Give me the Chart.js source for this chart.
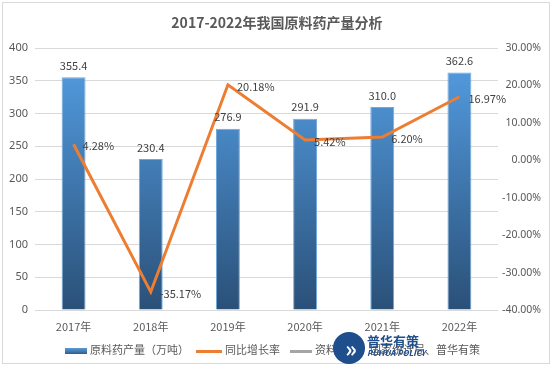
<!DOCTYPE html>
<html><head><meta charset="utf-8">
<script src="https://cdn.jsdelivr.net/npm/chart.js@4/dist/chart.umd.min.js"></script>
<style>
html,body{margin:0;padding:0;background:#fff;}
#wrap{position:relative;width:554px;height:369px;overflow:hidden;font-family:"Noto Sans CJK SC","Noto Sans",sans-serif;}
#frame{position:absolute;left:2px;top:2px;width:548px;height:362px;border:1px solid #d9d9d9;box-sizing:border-box;}
#title{position:absolute;left:0;top:12px;width:554px;text-align:center;font-size:14px;font-weight:bold;color:#595959;}
canvas{position:absolute;left:0;top:0;}
.lg{position:absolute;top:341px;font-size:11px;color:#595959;white-space:nowrap;}
.sw{display:inline-block;vertical-align:middle;margin-right:3px;}
#logo{position:absolute;left:333px;top:332px;width:32px;height:32px;border-radius:50%;background:#1f4e8c;color:#fff;font-size:22px;font-weight:bold;line-height:30px;text-align:center;letter-spacing:-4px;}
#logot{position:absolute;left:367px;top:334px;color:#1f4e8c;font-size:13px;font-weight:bold;line-height:14px;}
#logot span{display:block;font-size:8px;font-style:italic;line-height:9px;}
</style></head>
<body><div id="wrap">
<div id="frame"></div>
<canvas id="c" width="554" height="369"></canvas>
<div id="title">2017-2022年我国原料药产量分析</div>
<div class="lg" style="left:65px"><span class="sw" style="width:22px;height:6px;background:linear-gradient(#5b9bd5,#2e5e8f)"></span>原料药产量（万吨）</div>
<div class="lg" style="left:196px"><span class="sw" style="width:26px;height:3px;background:#ed7d31"></span>同比增长率</div>
<div class="lg" style="left:290px"><span class="sw" style="width:22px;height:3px;background:#a5a5a5"></span>资料来源：国家统计局、普华有策</div>
<div id="logo">»</div>
<div id="logot">普华有策<span>PUHUA POLICY</span></div>
</div>
<script>
const categories = ["2017年","2018年","2019年","2020年","2021年","2022年"];
const production = [355.4, 230.4, 276.9, 291.9, 310.0, 362.6];
const growth = [4.28, -35.17, 20.18, 5.42, 6.20, 16.97];
const leftTicks = [0,50,100,150,200,250,300,350,400];
const rightTicks = [-40,-30,-20,-10,0,10,20,30];

const labelPlugin = {
  id:'vals',
  afterDatasetsDraw(chart){
    const ctx = chart.ctx;
    ctx.save();
    ctx.font = '11px "Noto Sans CJK SC","Noto Sans",sans-serif';
    ctx.fillStyle = '#404040';
    chart.getDatasetMeta(0).data.forEach((el,i)=>{
      ctx.textAlign='center';ctx.textBaseline='bottom';
      ctx.fillText(production[i].toFixed(1), el.x, el.y-6);
    });
    chart.getDatasetMeta(1).data.forEach((el,i)=>{
      ctx.textAlign='left';ctx.textBaseline='middle';
      ctx.fillText(growth[i].toFixed(2)+'%', el.x+9, el.y+2);
    });
    ctx.restore();
  }
};

const ctx = document.getElementById('c').getContext('2d');
new Chart(ctx,{
  data:{
    labels:categories,
    datasets:[
      {type:'bar',data:production,yAxisID:'y',order:2,
       barPercentage:0.31,categoryPercentage:1,
       borderColor:'#6fa8dc',borderWidth:{top:1,left:1,right:1,bottom:0},
       backgroundColor:(c)=>{
         const a=c.chart.chartArea; if(!a) return '#4a86c5';
         const g=c.chart.ctx.createLinearGradient(0,a.top,0,a.bottom);
         g.addColorStop(0,'#55a0e6');g.addColorStop(1,'#2a5078');return g;}
      },
      {type:'line',data:growth,yAxisID:'y1',order:1,borderColor:'#ed7d31',borderWidth:3,
       pointRadius:0,tension:0,fill:false}
    ]
  },
  options:{
    responsive:false,animation:false,
    layout:{padding:{top:48,bottom:35,left:0,right:13}},
    plugins:{legend:{display:false},title:{display:false},tooltip:{enabled:false}},
    scales:{
      x:{grid:{display:false},border:{display:false},
         ticks:{color:'#595959',font:{size:11,family:'"Noto Sans CJK SC","Noto Sans",sans-serif'},padding:2,maxRotation:0},
         afterFit(s){s.height=24;}},
      y:{position:'left',min:0,max:400,
         afterBuildTicks(s){s.ticks=leftTicks.map(v=>({value:v}));},
         grid:{color:'#d9d9d9',drawTicks:false},border:{display:false},
         ticks:{color:'#595959',font:{size:11,family:'"Noto Sans","Noto Sans CJK SC",sans-serif'},padding:7},
         afterFit(s){s.width=35;}},
      y1:{position:'right',min:-40,max:30,
         afterBuildTicks(s){s.ticks=rightTicks.map(v=>({value:v}));},
         grid:{display:false},border:{display:false},
         ticks:{color:'#595959',font:{size:10.5,family:'"Noto Sans","Noto Sans CJK SC",sans-serif'},padding:0,crossAlign:'far',
           callback:(v)=>v.toFixed(2)+'%'},
         afterFit(s){s.width=43;}}
    }
  },
  plugins:[labelPlugin]
});
</script>
</body></html>
